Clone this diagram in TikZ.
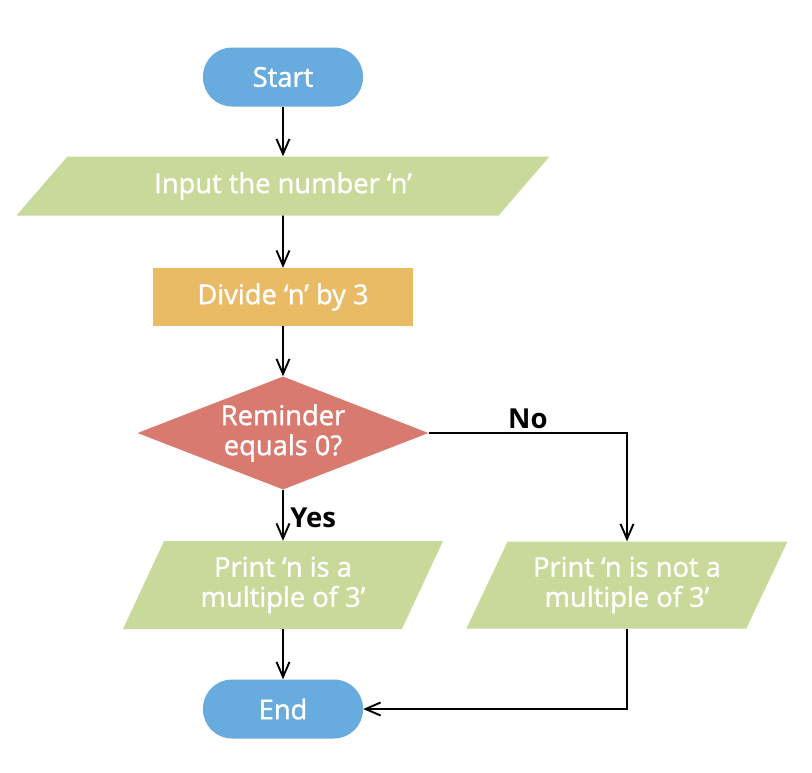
\documentclass[tikz,border=0pt]{standalone}
\usepackage{fontspec}
\setmainfont{Open Sans}
\newfontfamily\semibold{Open Sans}[FakeBold=1.3]
\usepackage{tikz}
\usetikzlibrary{shapes.geometric}
\usetikzlibrary{arrows.meta}
\definecolor{termblue}{RGB}{104,171,222}
\definecolor{iogreen}{RGB}{201,217,153}
\definecolor{procorange}{RGB}{233,187,100}
\definecolor{decred}{RGB}{217,122,112}

\begin{document}
\begin{tikzpicture}[x=1pt,y=-1pt,
		font=\semibold\fontsize{27.3}{30}\selectfont,
		term/.style={fill=termblue,text=white,rounded corners=29pt,minimum width=160pt,minimum height=59pt,inner sep=0pt},
		io/.style={trapezium,trapezium stretches body,fill=iogreen,text=white,inner sep=0pt,align=center},
		proc/.style={fill=procorange,text=white,minimum width=260pt,minimum height=58pt,inner sep=0pt},
		dec/.style={diamond,fill=decred,text=white,shape aspect=2.575,minimum width=291pt,minimum height=113pt,inner sep=0pt,align=center},
		flow/.style={line width=1.9pt,-{Straight Barb[length=15pt,width=13pt,line width=1.9pt]}},
		lbl/.style={font=\fontsize{27.5}{30}\selectfont\bfseries}]
				\useasboundingbox (0,0) rectangle (812,772);
				\node[term] (start) at (283,77) {Start};
				\node[io,trapezium left angle=28.2,trapezium right angle=151.8,minimum width=533pt,minimum height=59pt] (input) at (283,186) {Input the number ‘n’};
				\node[proc] (divide) at (283,297) {Divide ‘n’ by 3};
				\node[dec] (check) at (283,433) {Reminder\\equals 0?};
				\node[io,trapezium left angle=54,trapezium right angle=126,minimum width=320pt,minimum height=88pt] (yesout) at (283,585) {Print ‘n is a\\multiple of 3’};
				\node[io,trapezium left angle=54,trapezium right angle=126,minimum width=321pt,minimum height=87pt] (noout) at (627,585) {Print ‘n is not a\\multiple of 3’};
				\node[term] (stop) at (283,709) {End};
				\coordinate (bend) at (627,433);
				\draw[flow] (start) -- (input);
				\draw[flow] (input) -- (divide);
				\draw[flow] (divide) -- (check);
				\draw[flow] (check) -- (yesout) node[lbl,pos=0.55,right=3pt] {Yes};
				\draw[flow] (check.east) -- (bend) node[lbl,pos=0.5,above=0pt] {No} -- (noout);
				\draw[flow] (yesout) -- (stop);
				\draw[flow] (noout) |- (stop.east);
			\end{tikzpicture}
\end{document}
